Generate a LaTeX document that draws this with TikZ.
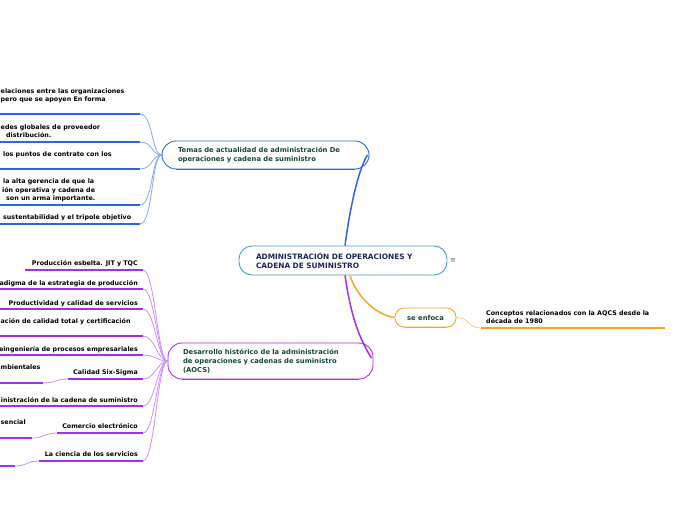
\documentclass[tikz,border=0pt]{standalone}
\usepackage{fontspec}
\setmainfont{DejaVu Sans}
\usetikzlibrary{calc}
\definecolor{tblue}{RGB}{45,100,235}
\definecolor{tbluel}{RGB}{135,165,255}
\definecolor{cblue}{RGB}{70,150,215}
\definecolor{tpurp}{RGB}{165,45,240}
\definecolor{tpurpl}{RGB}{205,140,255}
\definecolor{torange}{RGB}{245,165,40}
\definecolor{torangel}{RGB}{250,205,130}
\definecolor{tgreen}{RGB}{22,72,55}
\definecolor{cnavy}{RGB}{25,40,90}
\definecolor{icongray}{RGB}{90,100,120}
\tikzset{
  leaf/.style={inner sep=0pt, font=\fontsize{6.35}{8}\selectfont\bfseries, text=black},
  topicbox/.style={draw, line width=0.9pt, inner sep=0pt, align=left,
     font=\fontsize{6.8}{9}\selectfont\bfseries, text=tgreen},
  uline/.style={line width=1.8pt},
  thinlink/.style={line width=0.8pt},
  mainlink/.style={line width=1.5pt},
}
\begin{document}
\begin{tikzpicture}[x=1pt,y=-1pt]
\useasboundingbox (0,0) rectangle (696,520);

% ---------- central node ----------
\node[topicbox, draw=cblue, rounded corners=13pt, minimum width=208pt, minimum height=29pt,
      text width=174pt, text=cnavy, font=\fontsize{7.4}{9}\selectfont\bfseries]
      (c) at (343,260.5) {ADMINISTRACIÓN DE OPERACIONES Y\\CADENA DE SUMINISTRO};
\node[font=\fontsize{7}{8}\selectfont, text=icongray, inner sep=0pt] (menu) at (453,261) {≡};

% ---------- topic 1 ----------
\node[topicbox, draw=tblue, rounded corners=14pt, minimum width=207pt, minimum height=28pt,
      text width=175pt] (t1) at (265.5,155)
      {Temas de actualidad de administración De\\operaciones y cadena de suministro};
\draw[tblue, uline] ($(t1.south west)+(14,0)$) -- ($(t1.south east)+(-14,0)$);

% ---------- topic 2 ----------
\node[topicbox, draw=tpurp, rounded corners=14pt, minimum width=205pt, minimum height=36pt,
      text width=175pt] (t2) at (270.5,361)
      {Desarrollo histórico de la administración\\de operaciones y cadenas de suministro\\(AOCS)};
\draw[tpurp, uline] ($(t2.south west)+(14,0)$) -- ($(t2.south east)+(-14,0)$);

% ---------- topic 3 ----------
\node[topicbox, draw=torange, rounded corners=9pt, minimum width=61pt, minimum height=19pt,
      align=center] (t3) at (425.5,317.5) {se enfoca};
\draw[torange, uline] ($(t3.south west)+(9,0)$) -- ($(t3.south east)+(-9,0)$);

% ---------- central links ----------
\coordinate (c1) at ($(c.north)+(2,0)$);
\coordinate (c2) at ($(c.south)+(2,0)$);
\coordinate (c3) at ($(c.south)+(7,0)$);
\coordinate (t1e) at ($(t1.east)+(-2,0)$);
\coordinate (t2e) at ($(t2.east)+(-2,-3)$);
\draw[tblue, mainlink] (c1) .. controls (349,215) and (357,172) .. (t1e);
\draw[tpurp, mainlink] (c2) .. controls (350,310) and (357,335) .. (t2e);
\draw[torange, mainlink] (c3) .. controls (355,292) and (372,314) .. (t3.west);

% ---------- topic 3 child ----------
\node[leaf, anchor=base west] (r1a) at (486,315) {Conceptos relacionados con la AQCS desde la};
\node[leaf, anchor=base west] (r1b) at (486,323.5) {década de 1980};
\coordinate (r1l) at (481,328);
\coordinate (r1r) at (665,328);
\draw[torange, uline] (r1l) -- (r1r);
\draw[torangel, thinlink] (t3.east) .. controls (470,317.5) and (467,328) .. (r1l);

% ---------- topic 1 children ----------
\node[leaf, anchor=base west] (a1a) at (0.5,93) {elaciones entre las organizaciones};
\node[leaf, anchor=base west] (a1b) at (0.5,101.2) {pero que se apoyen En forma};
\node[leaf, anchor=base west] (a2a) at (0.5,129.2) {edes globales de proveedor};
\node[leaf, anchor=base west] (a2b) at (6,137.5) {distribución.};
\node[leaf, anchor=base west] (a3a) at (3,156.2) {los puntos de contrato con los};
\node[leaf, anchor=base west] (a4a) at (3,183.9) {la alta gerencia de que la};
\node[leaf, anchor=base west] (a4b) at (2,192.2) {ión operativa y cadena de};
\node[leaf, anchor=base west] (a4c) at (6,200.5) {son un arma importante.};
\node[leaf, anchor=base west] (a5a) at (3,219.5) {sustentabilidad y el tripole objetivo};
\foreach \n/\y in {1/114,2/142,3/169,4/205,5/224}{
  \coordinate (a\n l) at (0,\y);
  \coordinate (a\n r) at (140,\y);
  \draw[tblue, uline] (a\n l) -- (a\n r);
  \draw[tbluel, thinlink] (a\n r) .. controls +(13,0) and +(-10,0) .. (t1.west);
}

% ---------- topic 2 children ----------
\node[leaf, anchor=base east] (b1) at (138,265.5) {Producción esbelta. JIT y TQC};
\node[leaf, anchor=base east] (b2) at (138,285) {adigma de la estrategia de producción};
\node[leaf, anchor=base east] (b3) at (138,305) {Productividad y calidad de servicios};
\node[leaf, anchor=base west] (b4) at (0.5,323.5) {ación de calidad total y certificación};
\node[leaf, anchor=base east] (b5) at (138,351.5) {eingeniería de procesos empresariales};
\node[leaf, anchor=base east] (b6) at (138,374.5) {Calidad Six-Sigma};
\node[leaf, anchor=base west] (b6c) at (0.5,369) {mbientales};
\node[leaf, anchor=base east] (b7) at (138,402) {inistración de la cadena de suministro};
\node[leaf, anchor=base east] (b8) at (138,428.5) {Comercio electrónico};
\node[leaf, anchor=base west] (b8c) at (0.5,424) {sencial};
\node[leaf, anchor=base east] (b9) at (138,456.5) {La ciencia de los servicios};
\foreach \n/\x/\y in {1/25/270,2/0/289,3/0/309,4/0/336,5/0/355,6/68/379,7/0/406,8/57/433,9/39/461}{
  \coordinate (b\n l) at (\x,\y);
  \coordinate (b\n r) at (143,\y);
  \draw[tpurp, uline] (b\n l) -- (b\n r);
  \draw[tpurpl, thinlink] (b\n r) .. controls +(12,0) and +(-10,0) .. (t2.west);
}
% grandchildren
\foreach \n/\x/\y in {6/43/383,8/32/438,9/15/466}{
  \coordinate (g\n l) at (0,\y);
  \coordinate (g\n r) at (\x,\y);
  \draw[tpurp, uline] (g\n l) -- (g\n r);
  \draw[tpurpl, thinlink] (g\n r) .. controls +(12,0) and +(-12,0) .. (b\n l);
}
\end{tikzpicture}
\end{document}
